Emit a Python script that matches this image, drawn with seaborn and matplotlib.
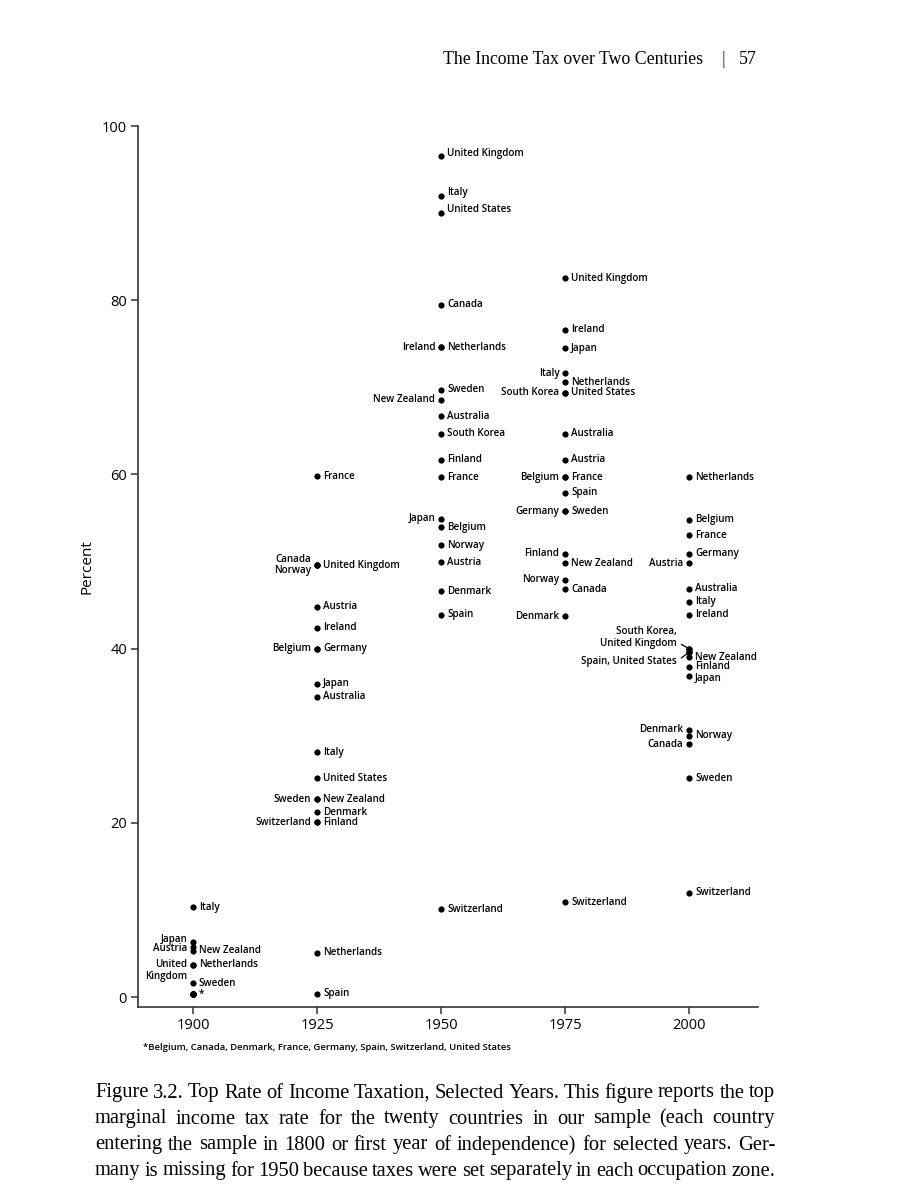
import matplotlib
matplotlib.use('Agg')
import matplotlib.pyplot as plt
import seaborn as sns
import pandas as pd

# Top marginal income tax rates (percent)
countries_1900 = ['Italy', 'Japan', 'Austria', 'New Zealand', 'United Kingdom', 'Netherlands',
                  'Sweden', 'Belgium', 'Canada', 'Denmark', 'France', 'Germany', 'Spain',
                  'Switzerland', 'United States']
rates_1900 = [10.3, 6.3, 5.8, 5.3, 3.7, 3.7, 1.6, 0.4, 0.4, 0.4, 0.4, 0.4, 0.4, 0.4, 0.4]

countries_1925 = ['France', 'Canada', 'Norway', 'United Kingdom', 'Austria', 'Ireland', 'Belgium',
                  'Germany', 'Japan', 'Australia', 'Italy', 'United States', 'Sweden',
                  'New Zealand', 'Denmark', 'Switzerland', 'Finland', 'Netherlands', 'Spain']
rates_1925 = [59.8, 49.6, 49.6, 49.6, 44.8, 42.4, 40.0, 40.0, 36.0, 34.5, 28.1, 25.1, 22.7,
              22.7, 21.2, 20.1, 20.1, 5.1, 0.4]

countries_1950 = ['United Kingdom', 'Italy', 'United States', 'Canada', 'Ireland', 'Netherlands',
                  'Sweden', 'New Zealand', 'Australia', 'South Korea', 'Finland', 'France',
                  'Japan', 'Belgium', 'Norway', 'Austria', 'Denmark', 'Spain', 'Switzerland']
rates_1950 = [96.5, 92.0, 90.0, 79.5, 74.6, 74.6, 69.7, 68.6, 66.7, 64.7, 61.7, 59.7,
              54.9, 54.0, 51.9, 49.9, 46.6, 43.9, 10.1]

countries_1975 = ['United Kingdom', 'Ireland', 'Japan', 'Italy', 'Netherlands', 'South Korea',
                  'United States', 'Australia', 'Austria', 'Belgium', 'France', 'Spain',
                  'Germany', 'Sweden', 'Finland', 'New Zealand', 'Norway', 'Canada', 'Denmark',
                  'Switzerland']
rates_1975 = [82.5, 76.6, 74.5, 71.6, 70.6, 69.4, 69.4, 64.7, 61.7, 59.7, 59.7, 57.9,
              55.8, 55.8, 50.9, 49.8, 47.9, 46.8, 43.7, 10.9]

countries_2000 = ['Netherlands', 'Belgium', 'France', 'Germany', 'Austria', 'Australia', 'Italy',
                  'Ireland', 'South Korea', 'United Kingdom', 'Spain', 'United States',
                  'New Zealand', 'Finland', 'Japan', 'Denmark', 'Norway', 'Canada', 'Sweden',
                  'Switzerland']
rates_2000 = [59.7, 54.8, 53.0, 50.9, 49.8, 46.9, 45.4, 43.9, 40.0, 40.0, 39.6, 39.6,
              39.0, 37.9, 36.9, 30.7, 30.0, 29.0, 25.1, 12.0]

year_ticks = [1900, 1925, 1950, 1975, 2000]
pct_ticks = [0, 20, 40, 60, 80, 100]

footnote = '*Belgium, Canada, Denmark, France, Germany, Spain, Switzerland, United States'
header = 'The Income Tax over Two Centuries'
page_no = '57'
caption_lines = [
    'Figure 3.2. Top Rate of Income Taxation, Selected Years. This figure reports the top',
    'marginal income tax rate for the twenty countries in our sample (each country',
    'entering the sample in 1800 or first year of independence) for selected years. Ger-',
    'many is missing for 1950 because taxes were set separately in each occupation zone.',
]

frames = []
for yr, c, r in [(1900, countries_1900, rates_1900), (1925, countries_1925, rates_1925),
                 (1950, countries_1950, rates_1950), (1975, countries_1975, rates_1975),
                 (2000, countries_2000, rates_2000)]:
    frames.append(pd.DataFrame({'year': yr, 'country': c, 'rate': r}))
df = pd.concat(frames, ignore_index=True)

# label layout
left_side = {(1900, 'Japan'), (1900, 'Austria'), (1900, 'United Kingdom'), (1925, 'Canada'),
             (1925, 'Belgium'), (1925, 'Sweden'), (1925, 'Switzerland'), (1950, 'Ireland'),
             (1950, 'New Zealand'), (1950, 'Japan'), (1975, 'Italy'), (1975, 'South Korea'),
             (1975, 'Belgium'), (1975, 'Germany'), (1975, 'Finland'), (1975, 'Norway'),
             (1975, 'Denmark'), (2000, 'Austria'), (2000, 'Denmark'), (2000, 'Canada')}
merged = {(1900, 'United Kingdom'): 'United\nKingdom', (1900, 'Belgium'): '*',
          (1925, 'Canada'): 'Canada\nNorway'}
skip = {(1900, c) for c in ['Canada', 'Denmark', 'France', 'Germany', 'Spain', 'Switzerland',
                            'United States']}
skip |= {(1925, 'Norway'), (2000, 'South Korea'), (2000, 'United Kingdom'), (2000, 'Spain'),
         (2000, 'United States')}
dy_pt = {(1900, 'Japan'): 2, (1900, 'Austria'): -1.5, (1900, 'United Kingdom'): -4.3,
         (1950, 'United Kingdom'): 2.5, (1950, 'Italy'): 2.5, (1950, 'United States'): 2.5,
         (1950, 'Belgium'): -0.8, (2000, 'Japan'): -2}

W, H = 900, 1200
sns.set_style('ticks')
plt.rcParams['font.family'] = ['Open Sans', 'DejaVu Sans']

fig = plt.figure(figsize=(9, 12), dpi=100)
ax = fig.add_axes([138 / W, 1 - 1006.7 / H, (758.3 - 138) / W, (1006.7 - 126) / H])

sns.scatterplot(data=df, x='year', y='rate', color='black', s=20, linewidth=0, ax=ax,
                legend=False, zorder=3)

lab_kw = dict(fontsize=7.1, fontweight='semibold', color='black')
for _, row in df.iterrows():
    key = (row['year'], row['country'])
    if key in skip:
        continue
    text = merged.get(key, row['country'])
    left = key in left_side
    ax.annotate(text, xy=(row['year'], row['rate']),
                xytext=(-4.2 if left else 4.2, dy_pt.get(key, 0)), textcoords='offset points',
                ha='right' if left else 'left', va='center', linespacing=1.1, **lab_kw)

# 2000 cluster with leader lines
sk = df[(df.year == 2000) & (df.country == 'South Korea')].iloc[0]
sp = df[(df.year == 2000) & (df.country == 'Spain')].iloc[0]
ax.annotate('South Korea,\nUnited Kingdom', xy=(sk['year'], sk['rate']), xytext=(-9, 8),
            textcoords='offset points', ha='right', va='center', linespacing=1.1,
            arrowprops=dict(arrowstyle='-', color='black', lw=0.9, relpos=(1.0, 0.3),
                            shrinkA=1, shrinkB=1.5), **lab_kw)
ax.annotate('Spain, United States', xy=(sp['year'], sp['rate']), xytext=(-9, -6.5),
            textcoords='offset points', ha='right', va='center',
            arrowprops=dict(arrowstyle='-', color='black', lw=0.9, relpos=(1.0, 0.5),
                            shrinkA=1, shrinkB=1.5), **lab_kw)

ax.set_xlim(1888.9, 2013.9)
ax.set_ylim(-1.1, 100)
ax.set_xticks(year_ticks)
ax.set_yticks(pct_ticks)
ax.set_xlabel('')
ax.set_ylabel('Percent', fontsize=11, labelpad=5, color='black')
ax.tick_params(axis='both', labelsize=10.5, length=5, width=1.1, color='#333333', pad=3,
               labelcolor='black')
sns.despine(ax=ax)
for s in ['left', 'bottom']:
    ax.spines[s].set_color('#333333')
    ax.spines[s].set_linewidth(1.2)

fig.text(143 / W, 1 - 1048 / H, footnote, fontsize=6.8, fontweight='semibold', va='center',
         color='black')

# running head
serif = ['Liberation Serif', 'DejaVu Serif']
fig.text(703 / W, 1 - 59 / H, header, family=serif, fontsize=12.8, ha='right', va='center',
         color='black')
fig.text(723 / W, 1 - 59 / H, '|', family=serif, fontsize=12.8, ha='center', va='center')
fig.text(757 / W, 1 - 59 / H, page_no, family=serif, fontsize=12.8, ha='right', va='center',
         color='black')

# justified caption
renderer = fig.canvas.get_renderer()
cap_kw = dict(family=serif, fontsize=14.8, va='center', color='black')
x0, x1 = 95, 775
for i, line in enumerate(caption_lines):
    y = 1 - (1093 + 26 * i) / H
    words = line.split(' ')
    widths = []
    for w in words:
        t = fig.text(0, 0, w, **cap_kw)
        widths.append(t.get_window_extent(renderer).width)
        t.remove()
    gap = ((x1 - x0) - sum(widths)) / (len(words) - 1)
    x = x0
    for w, wd in zip(words, widths):
        fig.text(x / W, y, w, **cap_kw)
        x += wd + gap

fig.savefig('out.png', dpi=100)
